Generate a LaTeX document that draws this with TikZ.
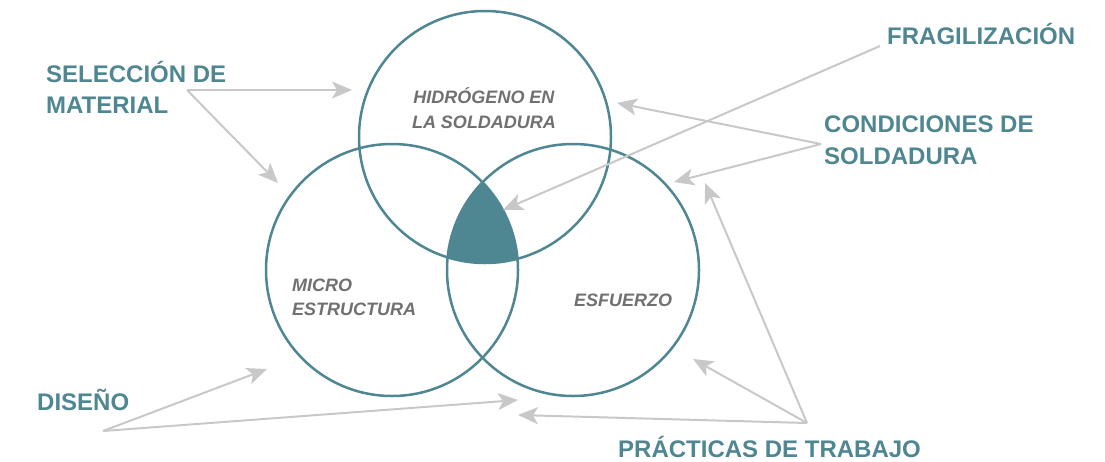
\documentclass[tikz,border=0pt]{standalone}
\usepackage{fontspec}
\setmainfont{Liberation Sans}
\usetikzlibrary{arrows.meta}
\definecolor{venn}{RGB}{78,134,145}
\definecolor{labgray}{RGB}{112,112,112}
\definecolor{arrgray}{RGB}{200,200,200}

\begin{document}
\begin{tikzpicture}[x=1pt, y=-1pt,
  ring/.style = {draw=venn, circle, line width=2.5pt, minimum size=252pt, inner sep=0},
  outer/.style = {text=venn, font=\bfseries\fontsize{24}{31}\selectfont, align=left, inner sep=0},
  inner/.style = {text=labgray, font=\bfseries\itshape\fontsize{18}{24}\selectfont, inner sep=0},
  pointer/.style = {draw=arrgray, line width=2pt, -{Stealth[length=20pt, width=17pt, inset=5pt]}}]
	\useasboundingbox (0,0) rectangle (1105,461);
	\begin{scope}
		\clip (485,137) circle[radius=126pt];
		\clip (392,270) circle[radius=126pt];
		\fill[venn] (573,270) circle[radius=126pt];
	\end{scope}
	\node[ring] (hyd) at (485,137){};
	\node[ring] (mic) at (392,270){};
	\node[ring] (esf) at (573,270){};
	\node[inner, align=center, anchor=base, font=\bfseries\itshape\fontsize{18}{25}\selectfont] (hydtxt) at (484,128){HIDRÓGENO EN\\LA SOLDADURA};
	\node[inner, align=left, anchor=base west] (mictxt) at (292,315){MICRO\\ESTRUCTURA};
	\node[inner, anchor=base west] (esftxt) at (574,306){ESFUERZO};
	\node[outer, anchor=base west] (selmat) at (46,113){SELECCIÓN DE\\MATERIAL};
	\node[outer, anchor=base west] (frag) at (887,44){FRAGILIZACIÓN};
	\node[outer, anchor=base west, font=\bfseries\fontsize{24}{32}\selectfont] (cond) at (824,164){CONDICIONES DE\\SOLDADURA};
	\node[outer, anchor=base west] (dis) at (37,410){DISEÑO};
	\node[outer, anchor=base west] (prac) at (618,457){PRÁCTICAS DE TRABAJO};
	\coordinate (selsrc) at (187,90);
	\coordinate (fragsrc) at (880,46);
	\coordinate (condsrc) at (821,144);
	\coordinate (dissrc) at (103,431);
	\coordinate (pracsrc) at (807,423);
	\coordinate (selhyd) at (352,90);
	\coordinate (selmic) at (278,183);
	\coordinate (fragtip) at (503,210);
	\coordinate (condhyd) at (617,103);
	\coordinate (condesf) at (674,182);
	\coordinate (dismic) at (267,369);
	\coordinate (disesf) at (518,400);
	\coordinate (pracup) at (705,183);
	\coordinate (pracesf) at (693,359);
	\coordinate (praclow) at (518,415);
	\draw[pointer] (selsrc) -- (selhyd);
	\draw[pointer] (selsrc) -- (selmic);
	\draw[pointer] (fragsrc) -- (fragtip);
	\draw[pointer] (condsrc) -- (condhyd);
	\draw[pointer] (condsrc) -- (condesf);
	\draw[pointer] (dissrc) -- (dismic);
	\draw[pointer] (dissrc) -- (disesf);
	\draw[pointer] (pracsrc) -- (pracup);
	\draw[pointer] (pracsrc) -- (pracesf);
	\draw[pointer] (pracsrc) -- (praclow);
\end{tikzpicture}
\end{document}
